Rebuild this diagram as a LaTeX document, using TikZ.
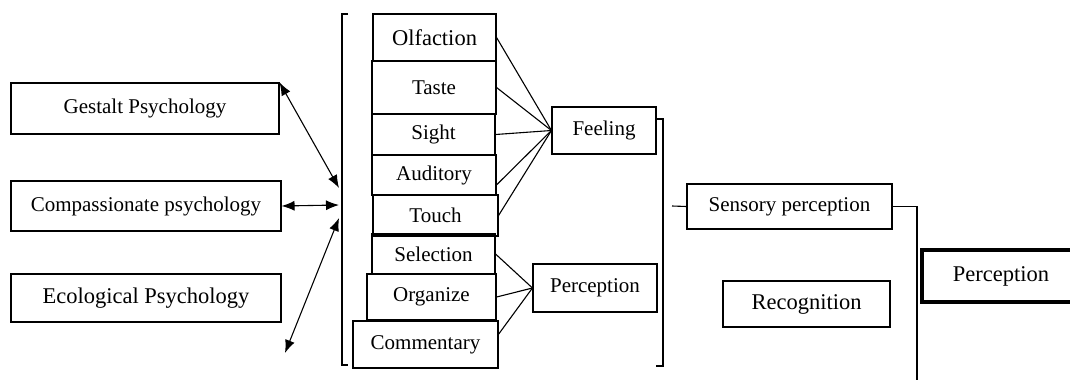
\documentclass[tikz,border=0pt]{standalone}
\usepackage{fontspec}
\setmainfont{Liberation Serif}
\usetikzlibrary{positioning,arrows.meta}

\begin{document}
\begin{tikzpicture}[x=1pt, y=-1pt, line width=1.1pt,
		box/.style = {draw, rectangle, inner sep=0pt, font=\fontsize{21}{24}\selectfont},
		big/.style = {box, font=\fontsize{22.5}{26}\selectfont},
		bold/.style = {big, line width=4.5pt},
		link/.style = {{Latex[length=13pt,width=10pt]}-{Latex[length=13pt,width=10pt]}}] 
			\useasboundingbox (0,0) rectangle (1070,380);
			\node[box, minimum width=268, minimum height=51] (gestalt) at (145,108.5) {Gestalt Psychology};
			\node[box, minimum width=270, minimum height=50] (compas) at (146,206) {Compassionate psychology};
			\node[big, minimum width=270, minimum height=48] (eco) at (146,298) {Ecological Psychology};
			\node[big, minimum width=123, minimum height=47] (olf) at (434.5,37.5) {Olfaction};
			\node[box, minimum width=124, minimum height=53] (taste) at (434,87.5) {Taste};
			\node[box, minimum width=123, minimum height=41] (sight) at (433.5,134.5) {Sight};
			\node[box, minimum width=124, minimum height=40] (aud) at (434,175) {Auditory};
			\node[box, minimum width=125, minimum height=41] (touch) at (435.5,215.5) {Touch};
			\node[box, minimum width=123, minimum height=40] (sel) at (433.5,254) {Selection};
			\node[box, minimum width=129, minimum height=46] (org) at (431.5,297) {Organize};
			\node[box, minimum width=145, minimum height=47] (comm) at (425.5,344.5) {Commentary};
			\node[box, minimum width=104, minimum height=47] (feel) at (604,130.5) {Feeling};
			\node[box, minimum width=124, minimum height=48] (percmid) at (595,288) {Perception};
			\node[box, minimum width=205, minimum height=45] (sens) at (789.5,206.5) {Sensory perception};
			\node[big, minimum width=167, minimum height=46] (recog) at (806.5,304) {Recognition};
			\node[bold, minimum width=158, minimum height=52] (perc) at (1001,276) {Perception};
			\coordinate (lbtop) at (348,14);
			\coordinate (lbbot) at (348,365);
			\coordinate (g1) at (339,188);
			\coordinate (c1) at (339,205);
			\coordinate (e1) at (339,218);
			\coordinate (e0) at (285,353);
			\coordinate (rbtop) at (656,119);
			\coordinate (rbbot) at (656,366);
			\coordinate (s0) at (672,206);
			\coordinate (send) at (917,380);
			\draw (lbtop) -- ++(-6,0) -- ++(0,351) -- (lbbot);
			\draw[link] (gestalt.north east) -- (g1);
			\draw[link] (compas.east) -- (c1);
			\draw[link] (e0) -- (e1);
			\draw[-] (olf.east) -- (feel.west);
			\draw[-] (taste.east) -- (feel.west);
			\draw[-] (sight.east) -- (feel.west);
			\draw[-] (aud.-9) -- (feel.west);
			\draw[-] (touch.east) -- (feel.west);
			\draw[-] (sel.east) -- (percmid.west);
			\draw[-] (org.east) -- (percmid.west);
			\draw[-] (comm.8) -- (percmid.west);
			\draw (rbtop) -- ++(7,0) -- ++(0,247) -- (rbbot);
			\draw[-] (s0) -- (sens.west);
			\draw[-] (sens.east) -| (send);
		\end{tikzpicture}
\end{document}
